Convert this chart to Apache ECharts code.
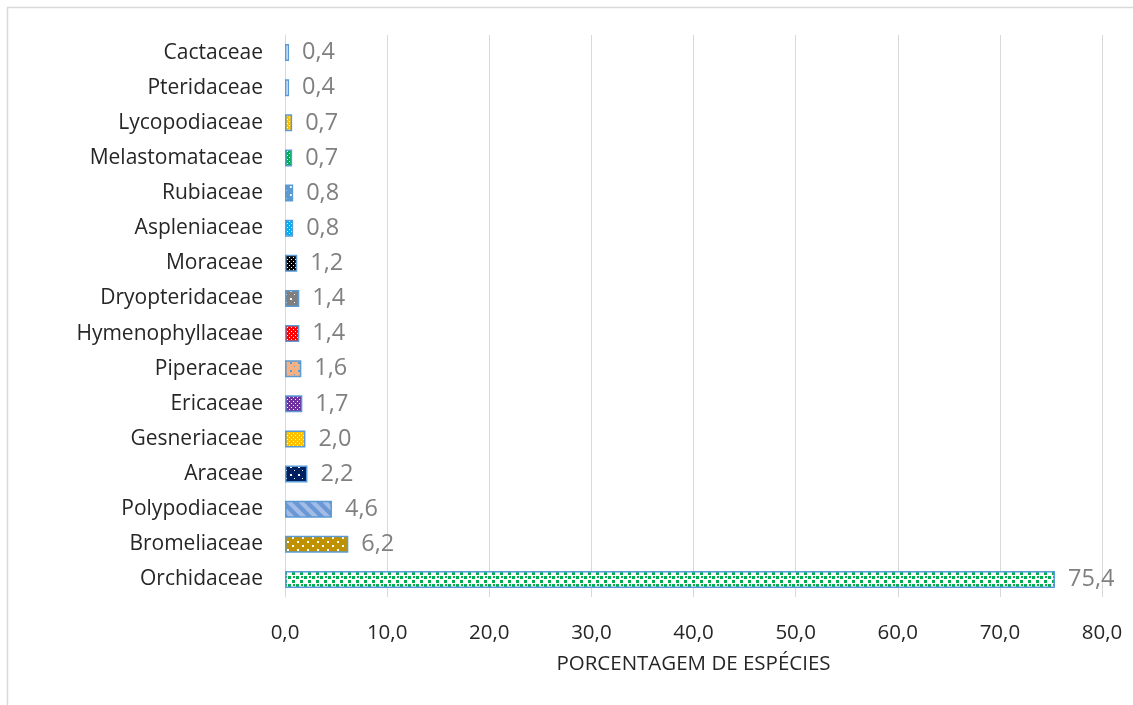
<!DOCTYPE html>
<html>
<head>
<meta charset="utf-8">
<script src="https://cdn.jsdelivr.net/npm/echarts@6/dist/echarts.min.js"></script>
<style>
  html, body { margin: 0; padding: 0; background: #fff; }
  #chart { width: 1133px; height: 705px; }
</style>
</head>
<body>
<div id="chart"></div>
<script>
// Families, listed top to bottom
const categories = [
  'Cactaceae', 'Pteridaceae', 'Lycopodiaceae', 'Melastomataceae', 'Rubiaceae',
  'Aspleniaceae', 'Moraceae', 'Dryopteridaceae', 'Hymenophyllaceae', 'Piperaceae',
  'Ericaceae', 'Gesneriaceae', 'Araceae', 'Polypodiaceae', 'Bromeliaceae', 'Orchidaceae'
];
// Share of species per family (%)
const values = [0.4, 0.4, 0.7, 0.7, 0.8, 0.8, 1.2, 1.4, 1.4, 1.6, 1.7, 2.0, 2.2, 4.6, 6.2, 75.4];
const xTicks = [0, 10, 20, 30, 40, 50, 60, 70, 80];

// Fill style per family: [background, dot colour, pattern kind]
const fills = [
  ['#ffffff', null, 'plain'],
  ['#ffffff', null, 'plain'],
  ['#FFC000', '#ffffff', 'dots'],
  ['#00B050', '#ffffff', 'dots'],
  ['#5B9BD5', '#ffffff', 'sparse'],
  ['#00B0F0', '#ffffff', 'dots'],
  ['#000000', '#ffffff', 'dots'],
  ['#7F7F7F', '#ffffff', 'sparse'],
  ['#FF0000', '#ffffff', 'dots'],
  ['#F4B183', '#5B9BD5', 'sparse'],
  ['#7030A0', '#ffffff', 'dots'],
  ['#FFC000', '#ffffff', 'dots'],
  ['#002060', '#ffffff', 'sparse'],
  ['#6A97D5', '#A3BCE6', 'stripes'],
  ['#BF9000', '#ffffff', 'grid'],
  ['#ffffff', '#00B050', 'confetti']
];

function makePattern(bg, fg, kind) {
  const c = document.createElement('canvas');
  let w = 4, h = 4;
  if (kind === 'sparse') { w = 8; h = 8; }
  if (kind === 'stripes') { w = 12; h = 12; }
  if (kind === 'grid') { w = 10; h = 8; }
  if (kind === 'confetti') { w = 8; h = 8; }
  c.width = w; c.height = h;
  const g = c.getContext('2d');
  g.fillStyle = bg;
  g.fillRect(0, 0, w, h);
  if (!fg) return c;
  g.fillStyle = fg;
  if (kind === 'dots') {
    g.fillRect(1, 1, 1, 1);
    g.fillRect(3, 3, 1, 1);
  } else if (kind === 'sparse') {
    g.fillRect(2, 2, 2, 2);
    g.fillRect(6, 6, 1, 1);
  } else if (kind === 'grid') {
    g.fillRect(2, 1, 2, 2);
    g.fillRect(7, 5, 2, 2);
  } else if (kind === 'confetti') {
    g.fillRect(0, 0, 3, 3);
    g.fillRect(4, 4, 3, 3);
    g.fillRect(5, 0, 2, 2);
  } else if (kind === 'stripes') {
    g.beginPath();
    for (let k = -2; k <= 2; k++) {
      g.moveTo(k * 12, 0);
      g.lineTo(k * 12 + 6, 0);
      g.lineTo(k * 12 + 18, 12);
      g.lineTo(k * 12 + 12, 12);
      g.closePath();
    }
    g.fill();
  }
  return c;
}

const seriesData = values.map((v, i) => ({
  value: v,
  itemStyle: {
    color: { image: makePattern(fills[i][0], fills[i][1], fills[i][2]), repeat: 'repeat' }
  }
}));

const FONT = 'Open Sans';
const chart = echarts.init(document.getElementById('chart'), null, { renderer: 'canvas' });
chart.setOption({
  animation: false,
  backgroundColor: '#ffffff',
  graphic: [{
    type: 'rect',
    shape: { x: 7.5, y: 7.5, width: 1200, height: 800 },
    style: { fill: 'none', stroke: '#D9D9D9', lineWidth: 1.5 },
    silent: true, z: -1
  }],
  grid: { left: 285, right: 31, top: 35, bottom: 108, containLabel: false },
  xAxis: {
    type: 'value',
    min: 0, max: 80, interval: 10,
    name: 'PORCENTAGEM DE ESPÉCIES',
    nameLocation: 'middle',
    nameGap: 57,
    nameTextStyle: { fontFamily: FONT, fontSize: 20.5, color: '#262626' },
    axisLine: { show: false },
    axisTick: { show: false },
    axisLabel: {
      margin: 26,
      fontFamily: FONT, fontSize: 20.5, color: '#262626',
      formatter: v => v.toFixed(1).replace('.', ',')
    },
    splitLine: { show: true, lineStyle: { color: '#D9D9D9', width: 1 } }
  },
  yAxis: {
    type: 'category',
    data: categories,
    inverse: true,
    axisLine: { show: true, lineStyle: { color: '#D9D9D9', width: 1 } },
    axisTick: { show: false },
    axisLabel: { margin: 22, fontFamily: FONT, fontSize: 21, color: '#262626' }
  },
  series: [{
    type: 'bar',
    data: seriesData,
    barWidth: 17,
    itemStyle: { borderColor: '#5B9BD5', borderWidth: 1.5 },
    label: {
      show: true,
      position: 'right',
      distance: 13,
      fontFamily: FONT, fontSize: 23.5, color: '#808080',
      formatter: p => p.value.toFixed(1).replace('.', ',')
    }
  }]
});
</script>
</body>
</html>
